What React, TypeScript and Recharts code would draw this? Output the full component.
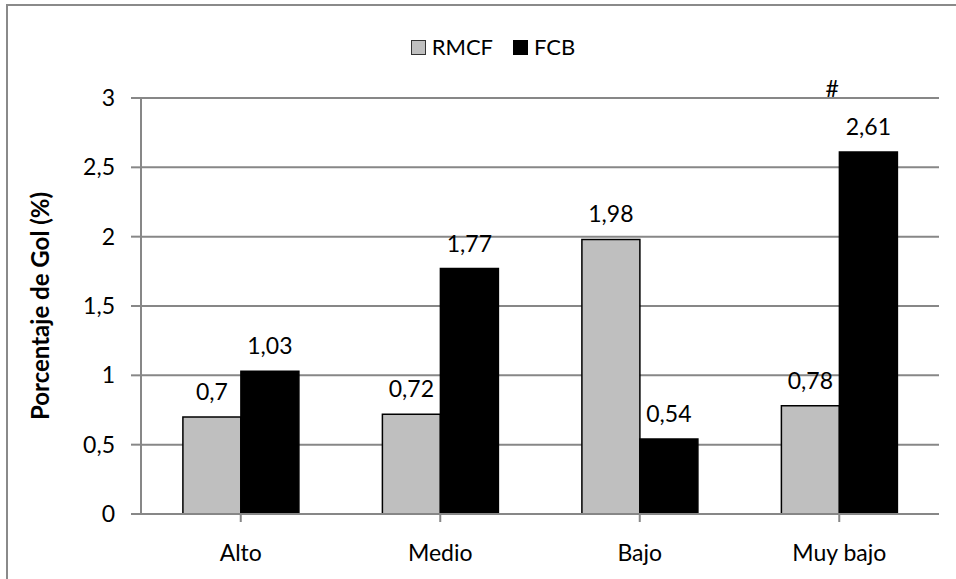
import { Bar, BarChart, CartesianGrid, LabelList, ReferenceDot, XAxis, YAxis } from "recharts"

const categories = ["Alto", "Medio", "Bajo", "Muy bajo"]
const rmcf = [0.7, 0.72, 1.98, 0.78]
const fcb = [1.03, 1.77, 0.54, 2.61]
const yTicks = [0, 0.5, 1, 1.5, 2, 2.5, 3]

const data = categories.map((name, i) => ({ name, RMCF: rmcf[i], FCB: fcb[i] }))

const FONT = "Lato, 'Noto Sans', sans-serif"
const FS = 23
const GRID = "#878787"
const RM_FILL = "#bfbfbf"
const FCB_FILL = "#000"

const fmt = (v: number) => String(v).replace(".", ",")

// legend sits above the plot, centred on the chart
const ChartLegend = () => (
  <div
    style={{
      position: "absolute",
      left: 0,
      top: 31,
      width: 986,
      display: "flex",
      justifyContent: "center",
      alignItems: "center",
      fontFamily: FONT,
      fontSize: 22,
      color: "#000",
      lineHeight: "32px",
    }}
  >
    <span style={{ width: 13, height: 13, background: RM_FILL, border: "1.5px solid #333", marginRight: 6 }} />
    <span style={{ marginRight: 20 }}>RMCF</span>
    <span style={{ width: 13, height: 13, background: FCB_FILL, border: "1.5px solid #000", marginRight: 6 }} />
    <span>FCB</span>
  </div>
)

export default function App() {
  return (
    <div style={{ position: "fixed", left: 0, top: 0, width: 956, height: 579, background: "#fff", overflow: "hidden" }}>
      <div
        style={{
          position: "absolute",
          left: 6,
          top: 4,
          width: 960,
          height: 590,
          border: "2px solid #8a8a8a",
        }}
      />
      <ChartLegend />
      <BarChart
        width={956}
        height={579}
        data={data}
        margin={{ top: 98, right: 17, bottom: 0, left: 81 }}
        barCategoryGap="21%"
        barGap={0}
        style={{ position: "absolute", left: 0, top: 0 }}
      >
        <CartesianGrid vertical={false} stroke={GRID} strokeWidth={2} />
        <XAxis
          dataKey="name"
          height={65}
          stroke={GRID}
          strokeWidth={2}
          tickSize={8}
          tickMargin={23}
          tick={{ fill: "#000", fontFamily: FONT, fontSize: FS }}
        />
        <YAxis
          width={60}
          domain={[0, 3]}
          ticks={yTicks}
          stroke={GRID}
          strokeWidth={2}
          tickSize={10}
          tickMargin={16}
          tickFormatter={fmt}
          tick={{ fill: "#000", fontFamily: FONT, fontSize: FS }}
          label={{
            value: "Porcentaje de Gol (%)",
            angle: -90,
            position: "left",
            offset: 41,
            style: { fontFamily: FONT, fontSize: 24, fontWeight: 700, fill: "#000", textAnchor: "middle" },
          }}
        />
        <Bar dataKey="RMCF" fill={RM_FILL} stroke="#000" strokeWidth={1.5} isAnimationActive={false}>
          <LabelList
            dataKey="RMCF"
            position="top"
            offset={17}
            formatter={(v: number) => fmt(v)}
            style={{ fontFamily: FONT, fontSize: FS, fill: "#000" }}
          />
        </Bar>
        <Bar dataKey="FCB" fill={FCB_FILL} stroke="#000" strokeWidth={1.5} isAnimationActive={false}>
          <LabelList
            dataKey="FCB"
            position="top"
            offset={17}
            formatter={(v: number) => fmt(v)}
            style={{ fontFamily: FONT, fontSize: FS, fill: "#000" }}
          />
        </Bar>
        {/* significance marker over the "Muy bajo" group */}
        <ReferenceDot
          x="Muy bajo"
          y={3}
          r={0}
          stroke="none"
          ifOverflow="visible"
          label={{ value: "#", position: "top", offset: 1, dx: -7, style: { fontFamily: FONT, fontSize: FS, fill: "#000" } }}
        />
      </BarChart>
    </div>
  )
}
